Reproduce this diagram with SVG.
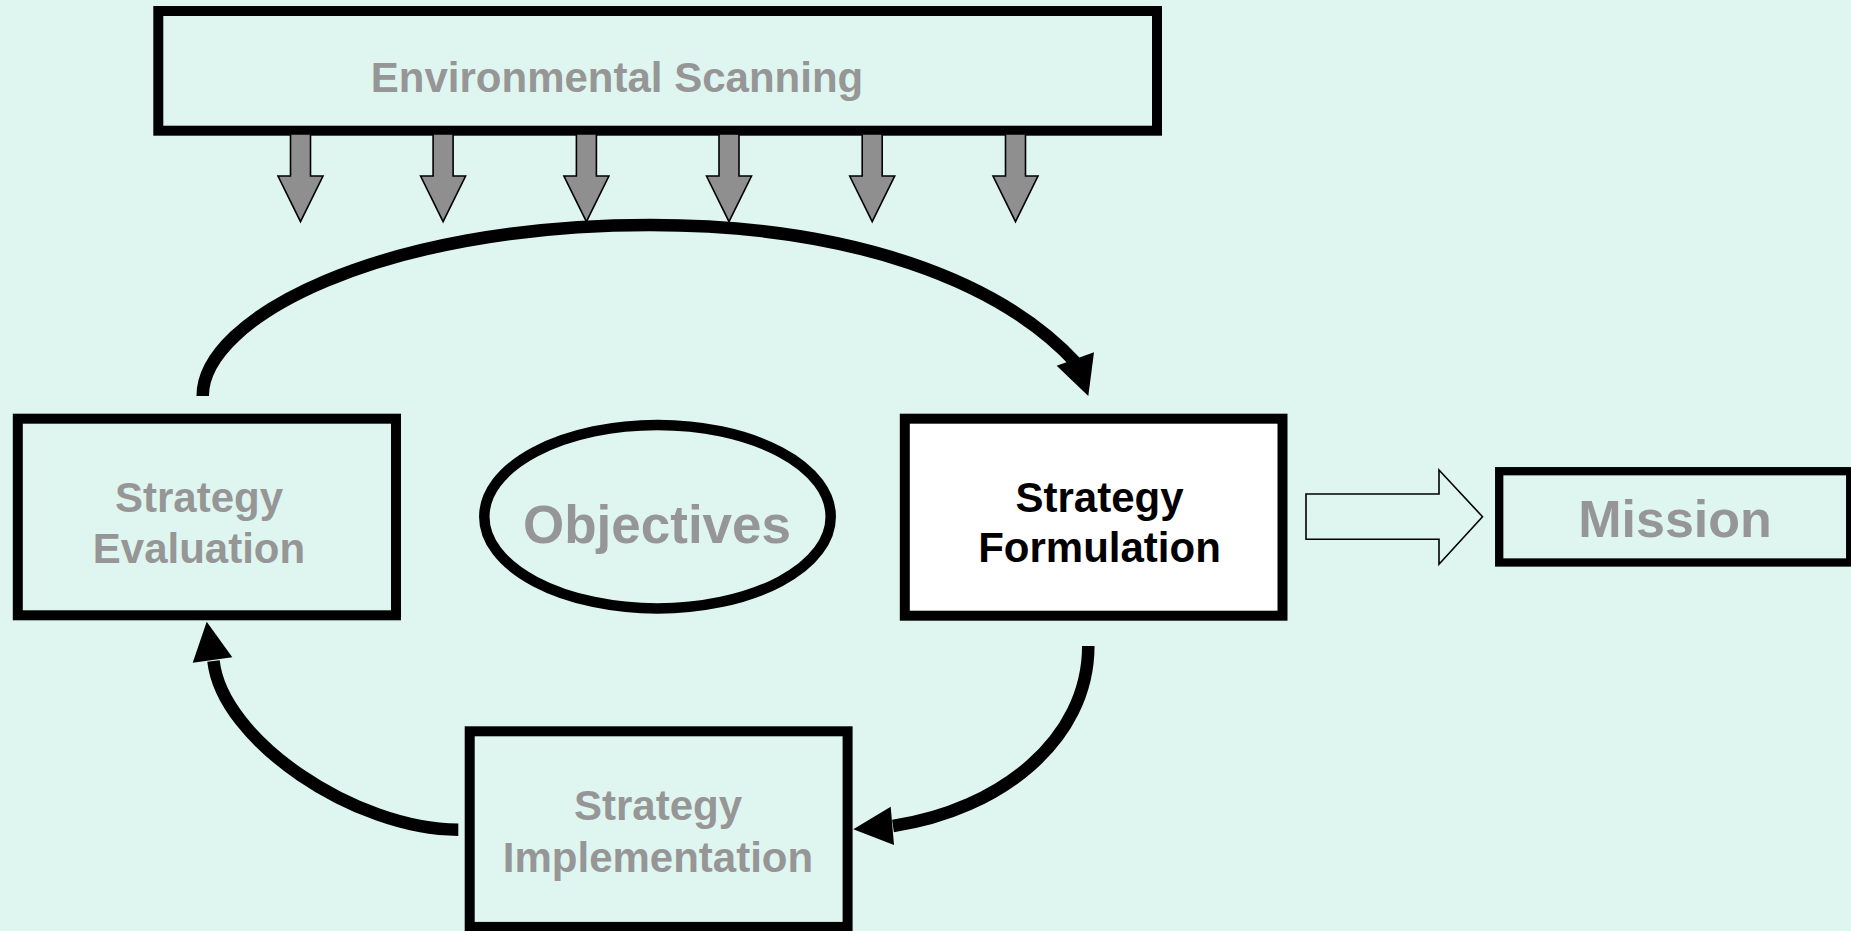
<svg xmlns="http://www.w3.org/2000/svg" width="1851" height="931" viewBox="0 0 1851 931">
  <style>
    .box { fill: #dff5f0; stroke: #000; stroke-width: 10; }
    .box-white { fill: #fff; stroke: #000; stroke-width: 10; }
    .label { font-family: "Liberation Sans", Arial, sans-serif; font-weight: bold; fill: #969696; text-anchor: middle; }
    .label-dark { fill: #000; }
    .scan-arrow { fill: #8f8f8f; stroke: #000; stroke-width: 1.6; stroke-linejoin: miter; }
    .flow { fill: none; stroke: #000; stroke-width: 12.5; }
    .head { fill: #000; stroke: none; }
    .hollow { fill: #dff5f0; stroke: #000; stroke-width: 1.6; }
  </style>
  <defs>
    <!-- downward block arrow, drawn around x = 0 -->
    <polygon id="down-arrow" points="-10,134 10,134 10,176 22.5,176 0,221.7 -22.5,176 -10,176" class="scan-arrow"/>
  </defs>

  <rect x="0" y="0" width="1851" height="931" fill="#dff5f0"/>

  <g id="environmental-scanning">
    <rect class="box" x="158.3" y="11" width="998.7" height="119.7"/>
    <text class="label" x="617" y="91.7" font-size="42">Environmental Scanning</text>
  </g>

  <g id="scanning-arrows">
    <use href="#down-arrow" x="300.5"/>
    <use href="#down-arrow" x="443.1"/>
    <use href="#down-arrow" x="586.4"/>
    <use href="#down-arrow" x="729"/>
    <use href="#down-arrow" x="872.2"/>
    <use href="#down-arrow" x="1015.5"/>
  </g>

  <g id="strategy-evaluation">
    <rect class="box" x="17.8" y="418.7" width="378.2" height="196.6"/>
    <text class="label" x="199" y="511.7" font-size="42">Strategy</text>
    <text class="label" x="199" y="562.5" font-size="42">Evaluation</text>
  </g>

  <g id="objectives">
    <ellipse cx="657.5" cy="516.7" rx="173.2" ry="91.7" fill="none" stroke="#000" stroke-width="10.5"/>
    <text class="label" x="657" y="543.3" font-size="53">Objectives</text>
  </g>

  <g id="strategy-formulation">
    <rect class="box-white" x="904.8" y="418.7" width="377.7" height="197"/>
    <text class="label label-dark" x="1099.5" y="511.7" font-size="42">Strategy</text>
    <text class="label label-dark" x="1099.5" y="562.3" font-size="42">Formulation</text>
  </g>

  <g id="mission">
    <rect x="1499.2" y="471.2" width="351" height="91.3" fill="#dff5f0" stroke="#000" stroke-width="8.3"/>
    <text class="label" x="1675" y="537.3" font-size="52">Mission</text>
  </g>

  <g id="strategy-implementation">
    <rect class="box" x="469.7" y="731.3" width="377.9" height="195.6"/>
    <text class="label" x="658" y="820" font-size="42">Strategy</text>
    <text class="label" x="658" y="871.7" font-size="42">Implementation</text>
  </g>

  <g id="connectors">
    <!-- evaluation back over the top to formulation -->
    <path class="flow" d="M 202.7,396 C 202.7,318 380,225 650,225 C 850,225 1000,280 1077,364"/>
    <polygon class="head" points="1056.7,365.7 1094,352.3 1088.3,396"/>

    <!-- formulation down to implementation -->
    <path class="flow" d="M 1088.3,646 C 1088.3,740 1000,810 893,826"/>
    <polygon class="head" points="890.7,806.7 894,845 853.3,829.3"/>

    <!-- implementation up to evaluation -->
    <path class="flow" d="M 458.3,829.7 C 355,829.7 222,740 213.5,661"/>
    <polygon class="head" points="192.7,662.7 232.3,657.3 206.7,621.7"/>

    <!-- formulation feeds the mission -->
    <polygon class="hollow" points="1306,494 1439,494 1439,470 1482.5,516.7 1439,564.3 1439,539.3 1306,539.3"/>
  </g>
</svg>
